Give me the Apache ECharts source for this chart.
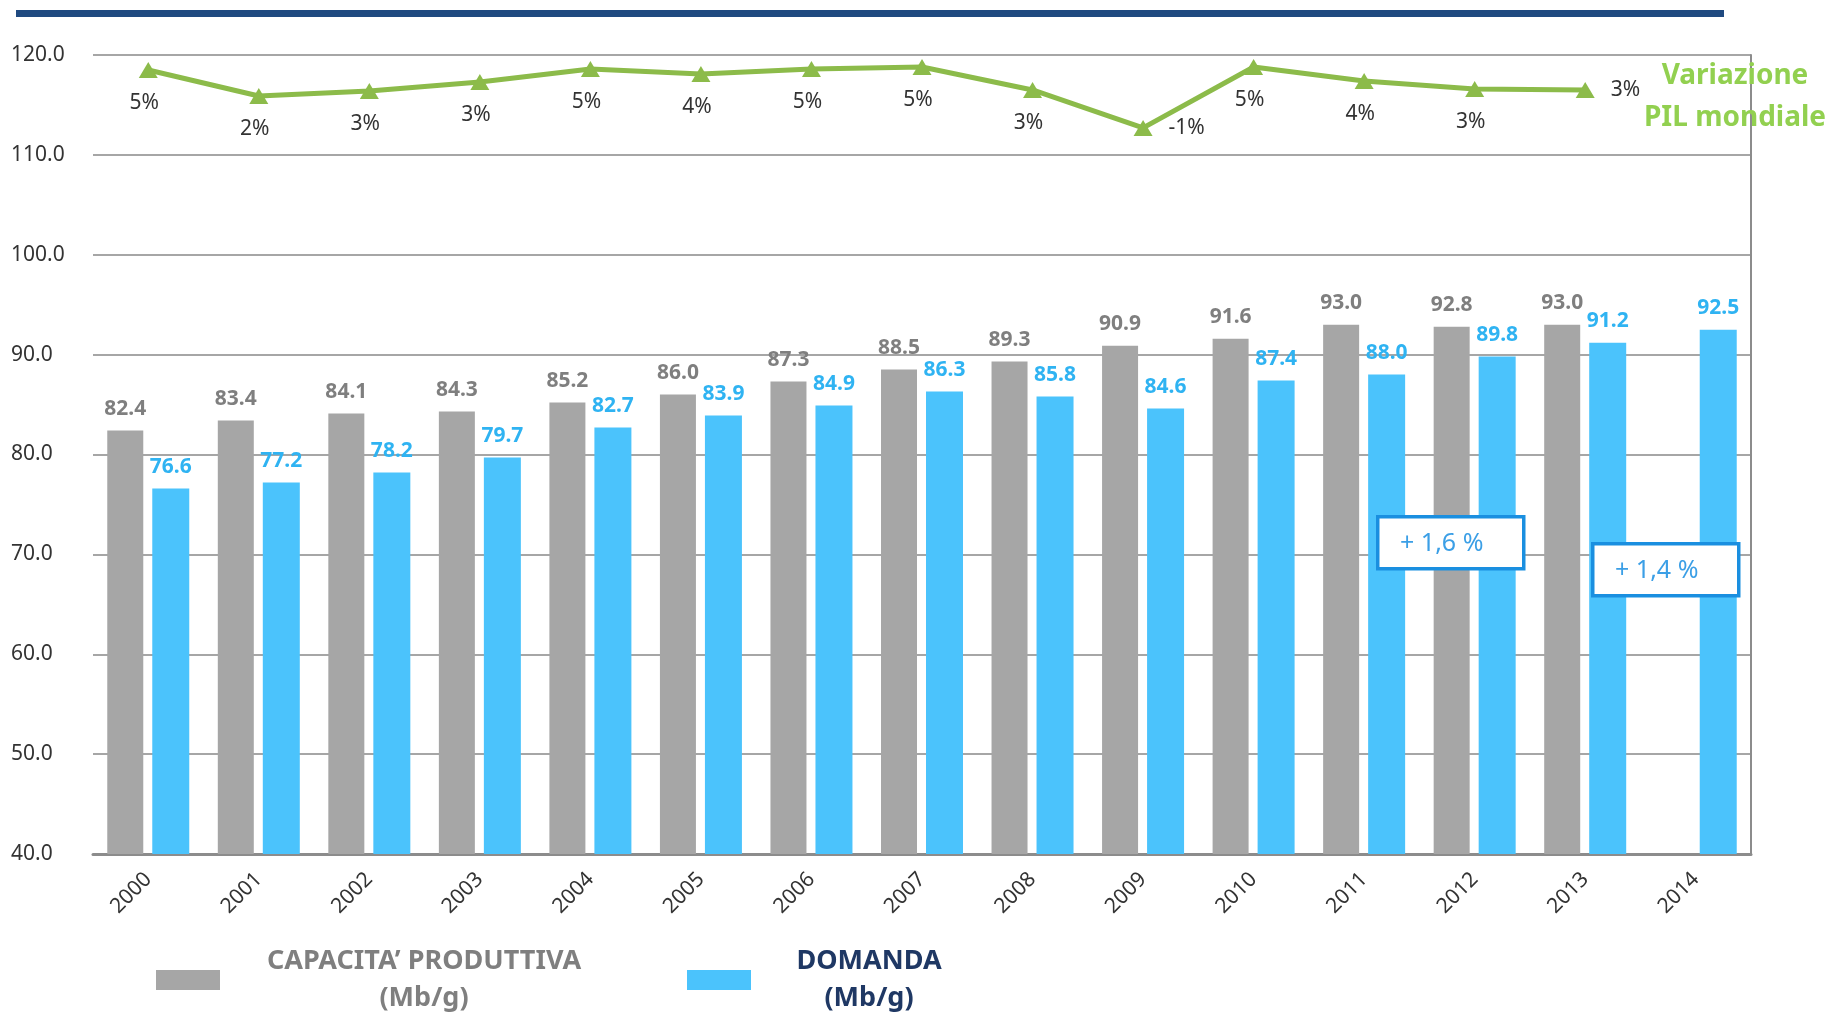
<!DOCTYPE html>
<html>
<head>
<meta charset="utf-8">
<title>Capacità produttiva e domanda</title>
<script src="https://cdn.jsdelivr.net/npm/echarts@6/dist/echarts.min.js"></script>
<style>
    html, body { margin: 0; padding: 0; background: #fff; }
    #chart { width: 1827px; height: 1016px; }
</style>
</head>
<body>
<div id="chart"></div>
<script>
// 数据
const years = ['2000', '2001', '2002', '2003', '2004', '2005', '2006', '2007', '2008', '2009', '2010', '2011', '2012', '2013', '2014'];
const capacity = [82.4, 83.4, 84.1, 84.3, 85.2, 86.0, 87.3, 88.5, 89.3, 90.9, 91.6, 93.0, 92.8, 93.0, null];
const demand = [76.6, 77.2, 78.2, 79.7, 82.7, 83.9, 84.9, 86.3, 85.8, 84.6, 87.4, 88.0, 89.8, 91.2, 92.5];
// PIL line: position on the axis + printed label
const pilLevel = [118.5, 115.9, 116.4, 117.3, 118.6, 118.1, 118.6, 118.8, 116.5, 112.7, 118.8, 117.4, 116.6, 116.5];
const pilLabels = ['5%', '2%', '3%', '3%', '5%', '4%', '5%', '5%', '3%', '-1%', '5%', '4%', '3%', '3%'];
const pilLabelRight = ['2009', '2013'];
const yTicks = { min: 40, max: 120, step: 10 };

const fontFamily = '"Noto Sans", "Open Sans", sans-serif';

let chart = echarts.init(document.getElementById('chart'));

// 折线数据, 2009 / 2013 标签放在右侧
let pilData = pilLevel.map((v, i) => {
    if (pilLabelRight.indexOf(years[i]) >= 0) {
        return { value: v, label: { position: 'right', distance: 16, offset: [0, 0] } };
    }
    return v;
});

// 注释框
function noteBox(x, y, text) {
    return {
        type: 'group',
        left: x,
        top: y,
        z: 100,
        children: [
            {
                type: 'rect',
                z: 100,
                shape: { x: 0, y: 0, width: 146, height: 52 },
                style: { fill: '#fff', stroke: '#1a8fe0', lineWidth: 3.5 }
            },
            {
                type: 'text',
                z: 101,
                x: 64,
                y: 27,
                style: {
                    text: text,
                    fill: '#3b9fe6',
                    font: '25px ' + fontFamily,
                    align: 'center',
                    verticalAlign: 'middle'
                }
            }
        ]
    };
}

let option = {
    animation: false,
    textStyle: { fontFamily: fontFamily },
    title: {
        text: 'Variazione\nPIL mondiale',
        left: 1730,
        top: 50,
        textAlign: 'center',
        textStyle: {
            color: '#92d050',
            fontSize: 28,
            fontWeight: 'bold',
            lineHeight: 42,
            align: 'center',
            fontFamily: fontFamily
        }
    },
    legend: {
        left: 151,
        top: 943,
        itemWidth: 64,
        itemHeight: 20,
        itemGap: 104,
        icon: 'rect',
        selectedMode: false,
        data: [
            { name: 'CAPACITA’ PRODUTTIVA', textStyle: { color: '#7f7f7f' } },
            { name: 'DOMANDA', textStyle: { color: '#1f3864' } }
        ],
        formatter: function (name) {
            let key = name === 'DOMANDA' ? 'b' : 'a';
            return '{' + key + '|' + name + '}\n{' + key + '|(Mb/g)}';
        },
        textStyle: {
            fontSize: 27,
            fontWeight: 'bold',
            padding: [0, 0, 0, 40],
            rich: {
                a: { width: 318, align: 'center', fontSize: 27, fontWeight: 'bold', lineHeight: 37, color: '#7f7f7f' },
                b: { width: 146, align: 'center', fontSize: 27, fontWeight: 'bold', lineHeight: 37, color: '#1f3864' }
            }
        }
    },
    grid: {
        left: 93,
        right: 76,
        top: 55,
        bottom: 162
    },
    xAxis: {
        type: 'category',
        data: years,
        axisTick: { show: false },
        axisLine: { lineStyle: { color: '#8c8c8c', width: 3 } },
        axisLabel: {
            rotate: 45,
            margin: 22,
            fontSize: 21,
            color: '#333'
        }
    },
    yAxis: [
        {
            type: 'value',
            min: yTicks.min,
            max: yTicks.max,
            interval: yTicks.step,
            axisLine: { show: false },
            axisTick: { show: false },
            axisLabel: {
                fontSize: 21,
                color: '#333',
                margin: 22,
                align: 'left',
                padding: [0, 0, 0, -60],
                formatter: v => v.toFixed(1)
            },
            splitLine: { lineStyle: { color: '#a6a6a6', width: 2 } }
        },
        {
            type: 'value',
            position: 'right',
            min: yTicks.min,
            max: yTicks.max,
            interval: yTicks.step,
            axisLine: { show: true, lineStyle: { color: '#8c8c8c', width: 2 } },
            axisTick: { show: false },
            axisLabel: { show: false },
            splitLine: { show: false }
        }
    ],
    series: [
        {
            name: 'CAPACITA’ PRODUTTIVA',
            type: 'bar',
            data: capacity,
            barWidth: 36,
            barGap: '25%',
            itemStyle: { color: '#a6a6a6' },
            label: {
                show: true,
                position: 'top',
                distance: 11,
                fontSize: 21,
                fontWeight: 'bold',
                color: '#7f7f7f',
                formatter: p => p.value.toFixed(1)
            }
        },
        {
            name: 'DOMANDA',
            type: 'bar',
            data: demand,
            barWidth: 37,
            itemStyle: { color: '#4bc3fc' },
            label: {
                show: true,
                position: 'top',
                distance: 11,
                fontSize: 21,
                fontWeight: 'bold',
                color: '#2fb3f2',
                formatter: p => p.value.toFixed(1)
            }
        },
        {
            name: 'PIL',
            type: 'line',
            data: pilData,
            symbol: 'triangle',
            symbolSize: [19, 16],
            lineStyle: { color: '#8cbb4a', width: 5 },
            itemStyle: { color: '#8cbb4a' },
            label: {
                show: true,
                position: 'bottom',
                distance: 15,
                offset: [-4, 0],
                fontSize: 21,
                color: '#333',
                formatter: p => pilLabels[p.dataIndex]
            },
            z: 5
        }
    ],
    graphic: [
        // 顶部蓝色横条
        {
            type: 'rect',
            left: 16,
            top: 10,
            shape: { width: 1708, height: 7 },
            style: { fill: '#1f4a80' }
        },
        noteBox(1376, 515, '+ 1,6 %'),
        noteBox(1591, 542, '+ 1,4 %')
    ]
};

chart.setOption(option);
</script>
</body>
</html>
